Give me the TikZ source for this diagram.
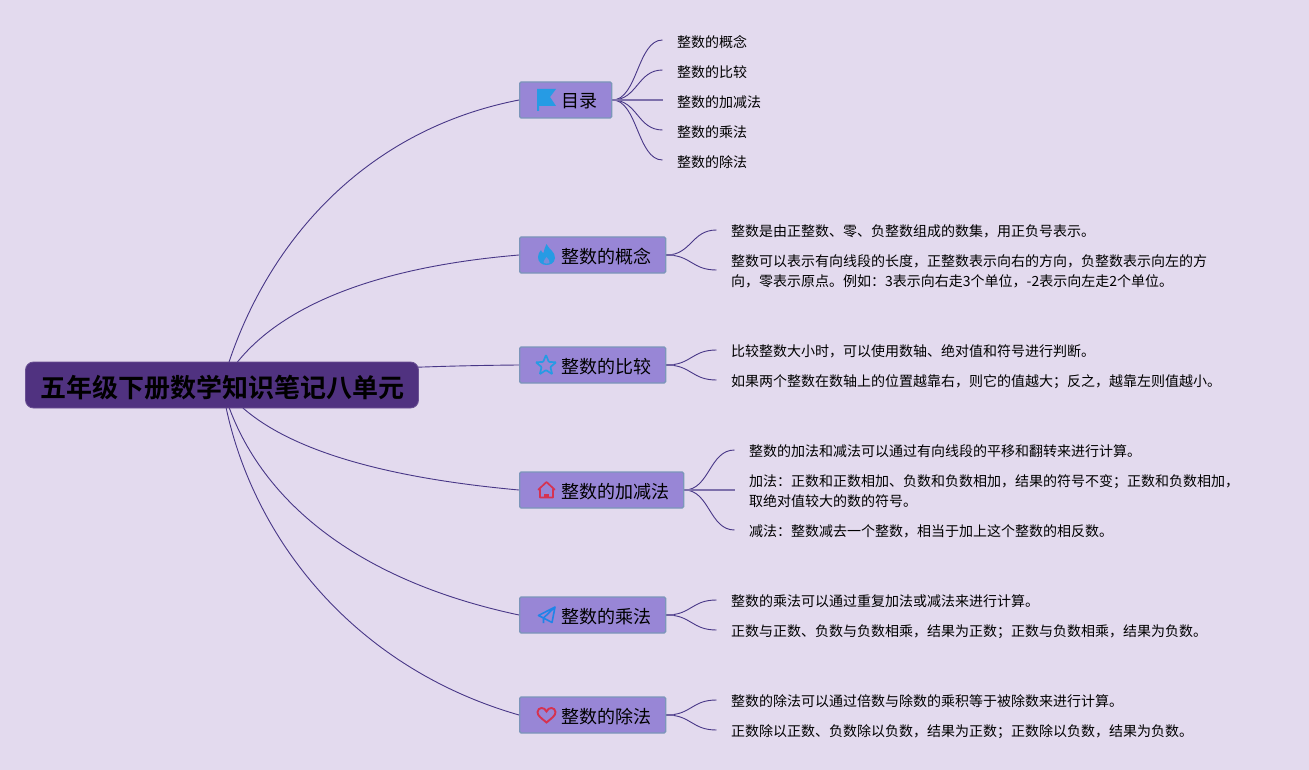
\documentclass[tikz,border=0pt]{standalone}
\usepackage{fontspec}
\setmainfont{Noto Sans CJK SC}[BoldFont={Noto Sans CJK SC Bold}]
\usetikzlibrary{calc, backgrounds}
\definecolor{pagelilac}{RGB}{227, 218, 238}
\definecolor{rootplum}{RGB}{80, 50, 128}
\definecolor{topicviolet}{RGB}{152, 134, 214}
\definecolor{topicedge}{RGB}{124, 150, 186}
\definecolor{linkink}{RGB}{72, 55, 135}
\definecolor{iconblue}{RGB}{38, 155, 228}
\definecolor{iconred}{RGB}{214, 50, 80}

\begin{document}
\begin{tikzpicture}[
  x=1pt, y=-1pt,
  rootbox/.style={draw=rootplum!85!white, fill=rootplum, rounded corners=8pt, line width=0.8pt, minimum width=393pt, minimum height=46pt, inner sep=0pt, text height=25pt, text depth=1pt, font=\fontsize{26}{30}\selectfont\bfseries},
  topicbox/.style={draw=topicedge, fill=topicviolet, rounded corners=1.5pt, line width=1.4pt, anchor=west, minimum height=36pt, inner sep=0pt, text height=17pt, text depth=1pt, font=\fontsize{18}{22}\selectfont, execute at begin node=\hspace*{41.5pt}, execute at end node=\hspace*{14.5pt}},
  leaftext/.style={anchor=west, align=left, inner ysep=0pt, inner xsep=14.5pt, font=\fontsize{14}{20}\selectfont},
  limb/.style={draw=linkink, line width=0.9pt},
  twig/.style={draw=linkink, line width=0.9pt, to path={.. controls ($(\tikztostart)!0.5!(\tikztotarget |- \tikztostart)$) and ($(\tikztotarget)!0.5!(\tikztostart |- \tikztotarget)$) .. (\tikztotarget)}},
  stub/.style={draw=linkink!75!pagelilac, line width=1.8pt},
  midline/.style={draw=linkink!65!pagelilac, line width=1.4pt},
  flagicon/.pic={\fill[iconblue] (-9,-11) -- (10,-11) -- (4,-3) -- (10,6) -- (-7,6) -- (-7,11) -- (-9,11) -- cycle;},
  flameicon/.pic={\fill[iconblue] (0,-11) .. controls (2,-6) and (9,-3) .. (8.5,3) .. controls (8,8) and (4,10) .. (0,10) .. controls (-5,10) and (-8.5,7) .. (-8.5,2) .. controls (-8.5,-1) and (-7,-3) .. (-5.5,-5) .. controls (-5,-3) and (-4,-2) .. (-3,-2) .. controls (-2,-5) and (-2,-8) .. (0,-11) -- cycle;
    \fill[topicviolet!70!iconblue] (0,2) .. controls (1,4) and (3.5,5) .. (3,7.5) .. controls (2.5,9) and (-2.5,9) .. (-3,7) .. controls (-3,5.5) and (-1,4) .. (0,2) -- cycle;},
  staricon/.pic={\draw[iconblue, line width=1.7pt, rounded corners=0.8pt] (0,-10.5) -- (2.8,-3.6) -- (10,-3.2) -- (4.4,1.5) -- (6.2,8.6) -- (0,4.6) -- (-6.2,8.6) -- (-4.4,1.5) -- (-10,-3.2) -- (-2.8,-3.6) -- cycle;},
  houseicon/.pic={\draw[iconred, line width=1.7pt, line join=round] (-8,-0.5) -- (0,-8) -- (8,-0.5) -- (6.5,-0.5) -- (6.5,7.5) -- (-6.5,7.5) -- (-6.5,-0.5) -- cycle;
    \fill[iconred] (-2.5,8) -- (-2.5,3.5) -- (2.5,3.5) -- (2.5,8) -- cycle;},
  planeicon/.pic={\draw[iconblue!85!blue, line width=1.6pt, line join=round] (8.5,-8) -- (-8,0.5) -- (-3,3) -- (5.5,7.5) -- cycle (8.5,-8) -- (-3,3) -- (-3,8);},
  hearticon/.pic={\draw[iconred, line width=1.9pt] (0,7.5) .. controls (-4,4) and (-9.5,0.5) .. (-9,-3) .. controls (-8.5,-8) and (-2,-8.5) .. (0,-3.5) .. controls (2,-8.5) and (8.5,-8) .. (9,-3) .. controls (9.5,0.5) and (4,4) .. (0,7.5) -- cycle;}
]
  \useasboundingbox (0,0) rectangle (1309,770);

  \node[rootbox] (root) at (222, 385) {五年级下册数学知识笔记八单元};

  \node[topicbox] (toc) at (519, 100) {目录};
  \node[topicbox] (concept) at (519, 255) {整数的概念};
  \node[topicbox] (compare) at (519, 365) {整数的比较};
  \node[topicbox] (addsub) at (519, 490) {整数的加减法};
  \node[topicbox] (mult) at (519, 615) {整数的乘法};
  \node[topicbox] (divide) at (519, 715) {整数的除法};

  \pic at (546, 100) {flagicon};
  \pic at (546.5, 255) {flameicon};
  \pic at (546, 365.5) {staricon};
  \pic at (546.5, 490) {houseicon};
  \pic at (546.5, 615) {planeicon};
  \pic at (546.5, 715) {hearticon};

  \node[leaftext] (tocA) at (662.5, 42) {整数的概念};
  \node[leaftext] (tocB) at (662.5, 72) {整数的比较};
  \node[leaftext] (tocC) at (662.5, 102) {整数的加减法};
  \node[leaftext] (tocD) at (662.5, 132) {整数的乘法};
  \node[leaftext] (tocE) at (662.5, 162) {整数的除法};

  \node[leaftext] (conceptA) at (716.5, 231.5) {整数是由正整数、零、负整数组成的数集，用正负号表示。};
  \node[leaftext] (conceptB) at (716.5, 271.5) {整数可以表示有向线段的长度，正整数表示向右的方向，负整数表示向左的方\\向，零表示原点。例如：3表示向右走3个单位，-2表示向左走2个单位。};

  \node[leaftext] (compareA) at (716.5, 351.5) {比较整数大小时，可以使用数轴、绝对值和符号进行判断。};
  \node[leaftext] (compareB) at (716.5, 381.5) {如果两个整数在数轴上的位置越靠右，则它的值越大；反之，越靠左则值越小。};

  \node[leaftext] (addsubA) at (734.5, 451.5) {整数的加法和减法可以通过有向线段的平移和翻转来进行计算。};
  \node[leaftext] (addsubB) at (734.5, 491.5) {加法：正数和正数相加、负数和负数相加，结果的符号不变；正数和负数相加，\\取绝对值较大的数的符号。};
  \node[leaftext] (addsubC) at (734.5, 531.5) {减法：整数减去一个整数，相当于加上这个整数的相反数。};

  \node[leaftext] (multA) at (716.5, 601.5) {整数的乘法可以通过重复加法或减法来进行计算。};
  \node[leaftext] (multB) at (716.5, 631.5) {正数与正数、负数与负数相乘，结果为正数；正数与负数相乘，结果为负数。};

  \node[leaftext] (divideA) at (716.5, 701.5) {整数的除法可以通过倍数与除数的乘积等于被除数来进行计算。};
  \node[leaftext] (divideB) at (716.5, 731.5) {正数除以正数、负数除以负数，结果为正数；正数除以负数，结果为负数。};

  \begin{scope}[on background layer]
    \fill[pagelilac] (0,0) rectangle (1309,770);
    \draw[limb] (root.center) .. controls (258, 255) and (355, 132) .. (toc.west);
    \draw[limb] (root.center) .. controls (262, 312) and (365, 268) .. (concept.west);
    \draw[limb] (root.center) .. controls (290, 372) and (400, 366) .. (compare.west);
    \draw[limb] (root.center) .. controls (262, 442) and (365, 476) .. (addsub.west);
    \draw[limb] (root.center) .. controls (250, 490) and (345, 578) .. (mult.west);
    \draw[limb] (root.center) .. controls (243, 525) and (345, 665) .. (divide.west);
    \foreach \leafname in {tocA, tocB, tocD, tocE}
      \draw[twig] (toc.east) to ([yshift=2pt]\leafname.west);
    \foreach \leafname in {conceptA, conceptB}
      \draw[twig] (concept.east) to ([yshift=1.5pt]\leafname.west);
    \foreach \leafname in {compareA, compareB}
      \draw[twig] (compare.east) to ([yshift=1.5pt]\leafname.west);
    \foreach \leafname in {addsubA, addsubC}
      \draw[twig] (addsub.east) to ([yshift=1.5pt]\leafname.west);
    \foreach \leafname in {multA, multB}
      \draw[twig] (mult.east) to ([yshift=1.5pt]\leafname.west);
    \foreach \leafname in {divideA, divideB}
      \draw[twig] (divide.east) to ([yshift=1.5pt]\leafname.west);
    \foreach \topicname in {toc, concept, compare, addsub, mult, divide}
      \draw[stub] (\topicname.east) -- ++(8,0);
    \draw[midline] (toc.east) -- (tocC.west |- toc.east);
    \draw[midline] (addsub.east) -- (addsubB.west |- addsub.east);
  \end{scope}
\end{tikzpicture}
\end{document}
